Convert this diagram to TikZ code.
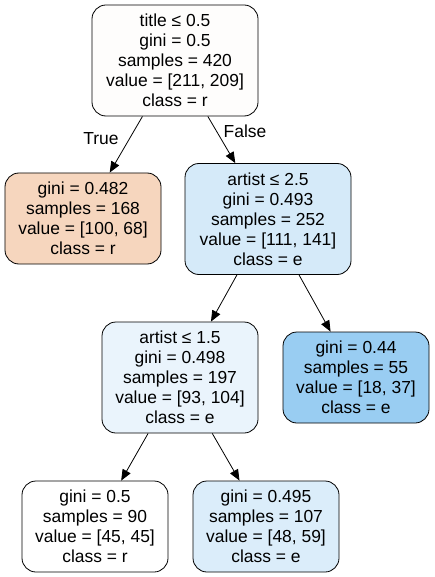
\documentclass[tikz,border=0pt]{standalone}
\usepackage{fontspec}
\setmainfont{Liberation Sans}
\usetikzlibrary{arrows.meta}

\definecolor{RootFill}{HTML}{FEFDFC}
\definecolor{TrueFill}{HTML}{F6D6BE}
\definecolor{ArtistTwoFill}{HTML}{D5EAF9}
\definecolor{ArtistOneFill}{HTML}{EAF4FC}
\definecolor{BlueLeafFill}{HTML}{99CDF2}
\definecolor{EvenFill}{HTML}{FFFFFF}
\definecolor{MixFill}{HTML}{DBEDFA}

\tikzset{
  TreeNode/.style={draw, line width=0.8bp, rounded corners=14bp,
    align=center, inner sep=0pt, font=\fontsize{17.5}{20}\selectfont},
  Split/.style={TreeNode, minimum height=111bp},
  Leaf/.style={TreeNode, minimum height=91bp},
  TreeEdge/.style={-{Triangle[length=11bp,width=9bp]}, line width=0.8bp},
  EdgeLabel/.style={font=\fontsize{17.5}{20}\selectfont}
}

\begin{document}
\begin{tikzpicture}[x=1bp, y=-1bp]
    \useasboundingbox (0,0) rectangle (435,577);
    % decision nodes
    \node[Split, fill=RootFill, minimum width=166bp] (root) at (175,60.5)
      {title ≤ 0.5\\gini = 0.5\\samples = 420\\value = [211, 209]\\class = r};
    \node[Split, fill=ArtistTwoFill, minimum width=166bp] (artistB) at (268,219)
      {artist ≤ 2.5\\gini = 0.493\\samples = 252\\value = [111, 141]\\class = e};
    \node[Split, fill=ArtistOneFill, minimum width=156bp] (artistA) at (180,377.5)
      {artist ≤ 1.5\\gini = 0.498\\samples = 197\\value = [93, 104]\\class = e};
    % leaves
    \node[Leaf, fill=TrueFill, minimum width=156bp] (leafTrue) at (83,218.5)
      {gini = 0.482\\samples = 168\\value = [100, 68]\\class = r};
    \node[Leaf, fill=BlueLeafFill, minimum width=146bp] (leafBlue) at (356,377.5)
      {gini = 0.44\\samples = 55\\value = [18, 37]\\class = e};
    \node[Leaf, fill=EvenFill, minimum width=146bp] (leafEven) at (95,526.5)
      {gini = 0.5\\samples = 90\\value = [45, 45]\\class = r};
    \node[Leaf, fill=MixFill, minimum width=146bp] (leafMix) at (266,526.5)
      {gini = 0.495\\samples = 107\\value = [48, 59]\\class = e};
    % edges
    \draw[TreeEdge] (root) -- (leafTrue);
    \draw[TreeEdge] (root) -- (artistB);
    \draw[TreeEdge] (artistB) -- (artistA);
    \draw[TreeEdge] (artistB) -- (leafBlue);
    \draw[TreeEdge] (artistA) -- (leafEven);
    \draw[TreeEdge] (artistA) -- (leafMix);
    \node[EdgeLabel] (trueLabel) at (101,139) {True};
    \node[EdgeLabel] (falseLabel) at (245,131) {False};
\end{tikzpicture}
\end{document}
